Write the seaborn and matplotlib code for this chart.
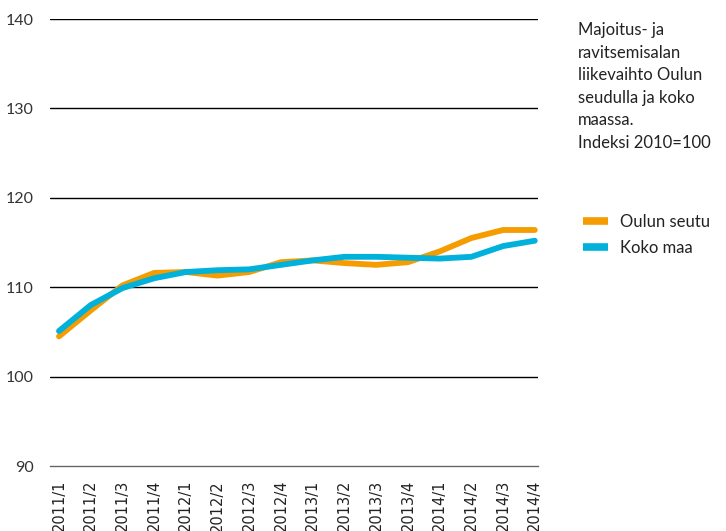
import pandas as pd
import numpy as np
import matplotlib.pyplot as plt
import seaborn as sns

# quarters 2011/1 .. 2014/4
quarters = ["2011/1", "2011/2", "2011/3", "2011/4",
            "2012/1", "2012/2", "2012/3", "2012/4",
            "2013/1", "2013/2", "2013/3", "2013/4",
            "2014/1", "2014/2", "2014/3", "2014/4"]
oulun_seutu = [104.5, 107.4, 110.2, 111.6, 111.7, 111.3, 111.7, 112.8,
               113.0, 112.7, 112.5, 112.8, 114.0, 115.5, 116.4, 116.4]
koko_maa = [105.1, 108.0, 109.9, 111.0, 111.7, 111.9, 112.0, 112.5,
            113.0, 113.4, 113.4, 113.3, 113.2, 113.4, 114.6, 115.2]
series_names = ["Oulun seutu", "Koko maa"]
colors = ["#F59D00", "#00B1DB"]
yticks = [90, 100, 110, 120, 130, 140]
title = "Majoitus- ja\nravitsemisalan\nliikevaihto Oulun\nseudulla ja koko\nmaassa.\nIndeksi 2010=100"

df = pd.DataFrame({
    "x": list(range(len(quarters))) * 2,
    "value": oulun_seutu + koko_maa,
    "series": [series_names[0]] * len(quarters) + [series_names[1]] * len(quarters),
})

sns.set_style("white")
plt.rcParams["font.family"] = ["Lato", "DejaVu Sans"]

fig = plt.figure(figsize=(7.26, 5.31), dpi=100)
ax = fig.add_axes([0.069, 0.1224, 0.672, 0.8418])

# grid lines
for v in yticks[1:]:
    ax.axhline(v, color="black", lw=1.0, zorder=1)

sns.lineplot(data=df, x="x", y="value", hue="series", palette=colors,
             linewidth=4.2, ax=ax, legend=False, zorder=3)

ax.set_ylim(90, 140)
ax.set_xlim(-0.28, 15.1)
ax.set_yticks(yticks)
ax.set_yticklabels([str(v) for v in yticks], fontsize=11.5, color="#333333")
ax.set_xticks(range(len(quarters)))
ax.set_xticklabels(quarters, rotation=90, fontsize=10.5,
                   family="Liberation Sans Narrow", color="#222222")
ax.tick_params(axis="y", length=0, pad=12)
ax.tick_params(axis="x", length=6, width=1, color="#666666", pad=4, direction="out")
ax.set_xlabel("")
ax.set_ylabel("")
for s in ["top", "right", "left"]:
    ax.spines[s].set_visible(False)
ax.spines["bottom"].set_color("#666666")
ax.spines["bottom"].set_linewidth(1.0)

fig.text(0.796, 0.958, title, fontsize=12, va="top", ha="left",
         color="#222222", linespacing=1.5)

handles = [plt.Line2D([0], [0], color=c, lw=5.5, solid_capstyle="butt") for c in colors]
fig.legend(handles, series_names, loc="upper left", bbox_to_anchor=(0.783, 0.625),
           frameon=False, fontsize=12, handlelength=1.5, handletextpad=0.7,
           labelspacing=0.6, labelcolor="#222222")

fig.savefig("out.png", dpi=100)
